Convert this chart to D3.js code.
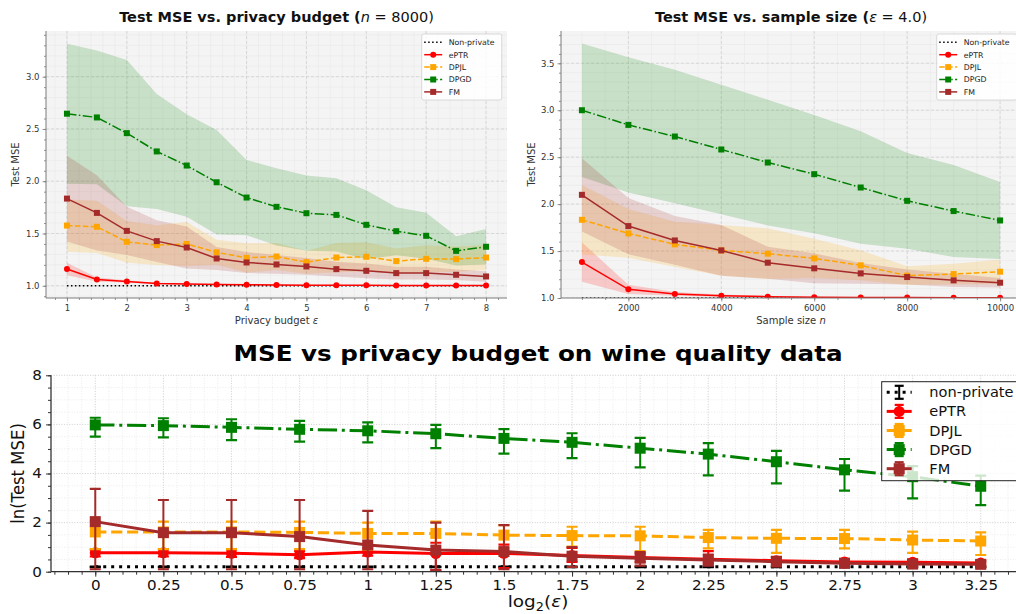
<!DOCTYPE html>
<html>
<head>
<meta charset="utf-8">
<script src="https://cdn.jsdelivr.net/npm/d3@7"></script>
<style>
  body { margin: 0; background: #fff; }
  svg { display: block; }
  text { font-family: "DejaVu Sans", sans-serif; }
</style>
</head>
<body>
<svg id="fig" width="1016" height="614"></svg>
<script>
// ---- panel A: test MSE vs privacy budget (n = 8000)
const epsA = [1, 1.5, 2, 2.5, 3, 3.5, 4, 4.5, 5, 5.5, 6, 6.5, 7, 7.5, 8];
const nonPrivA = [1, 1, 1, 1, 1, 1, 1, 1, 1, 1, 1, 1, 1, 1, 1];
const eptrA = [1.16, 1.06, 1.04, 1.022, 1.016, 1.013, 1.01, 1.008, 1.006, 1.005, 1.004, 1.003, 1.003, 1.002, 1.002];
const eptrSdA = [0.06, 0.02, 0.012, 0.008, 0.007, 0.006, 0.005, 0.005, 0.004, 0.004, 0.004, 0.003, 0.003, 0.003, 0.003];
const dpjlA = [1.576, 1.564, 1.42, 1.389, 1.40, 1.32, 1.267, 1.28, 1.226, 1.27, 1.277, 1.236, 1.258, 1.255, 1.27];
const dpjlSdA = [0.25, 0.25, 0.2, 0.19, 0.21, 0.12, 0.14, 0.13, 0.11, 0.14, 0.14, 0.12, 0.13, 0.12, 0.12];
const dpgdA = [2.646, 2.61, 2.46, 2.285, 2.15, 1.99, 1.844, 1.755, 1.694, 1.678, 1.583, 1.522, 1.478, 1.334, 1.373];
const dpgdSdA = [0.67, 0.64, 0.70, 0.55, 0.49, 0.50, 0.36, 0.37, 0.36, 0.35, 0.33, 0.23, 0.22, 0.14, 0.17];
const fmA = [1.834, 1.697, 1.525, 1.427, 1.366, 1.261, 1.223, 1.204, 1.185, 1.159, 1.143, 1.121, 1.121, 1.105, 1.089];
const fmSdA = [0.41, 0.36, 0.23, 0.2, 0.2, 0.11, 0.1, 0.09, 0.08, 0.07, 0.07, 0.06, 0.06, 0.05, 0.05];

// ---- panel B: test MSE vs sample size (eps = 4)
const nB = [1000, 2000, 3000, 4000, 5000, 6000, 7000, 8000, 9000, 10000];
const nonPrivB = [1, 1, 1, 1, 1, 1, 1, 1, 1, 1];
const eptrB = [1.383, 1.092, 1.043, 1.025, 1.014, 1.008, 1.005, 1.004, 1.003, 1.002];
const eptrSdB = [0.21, 0.05, 0.02, 0.012, 0.008, 0.006, 0.005, 0.004, 0.004, 0.003];
const dpjlB = [1.833, 1.688, 1.571, 1.507, 1.472, 1.422, 1.348, 1.238, 1.255, 1.28];
const dpjlSdB = [0.37, 0.26, 0.24, 0.27, 0.27, 0.21, 0.16, 0.1, 0.11, 0.13];
const dpgdB = [3.0, 2.844, 2.72, 2.582, 2.443, 2.319, 2.177, 2.035, 1.926, 1.826];
const dpgdSdB = [0.71, 0.72, 0.71, 0.69, 0.67, 0.63, 0.6, 0.51, 0.49, 0.41];
const fmB = [2.099, 1.766, 1.613, 1.507, 1.376, 1.316, 1.262, 1.223, 1.188, 1.163];
const fmSdB = [0.39, 0.3, 0.26, 0.27, 0.17, 0.16, 0.11, 0.08, 0.07, 0.05];

// ---- panel C: wine quality, ln(MSE) vs log2(eps), with error bars
const logEpsC = [0, 0.25, 0.5, 0.75, 1, 1.25, 1.5, 1.75, 2, 2.25, 2.5, 2.75, 3, 3.25];
const nonPrivC = [0.2, 0.2, 0.2, 0.2, 0.2, 0.2, 0.2, 0.2, 0.2, 0.2, 0.2, 0.2, 0.2, 0.2];
const nonPrivLoC = [0.19, 0.19, 0.19, 0.19, 0.19, 0.19, 0.19, 0.19, 0.19, 0.19, 0.19, 0.19, 0.19, 0.19];
const nonPrivHiC = [0.21, 0.21, 0.21, 0.21, 0.21, 0.21, 0.21, 0.21, 0.21, 0.21, 0.21, 0.21, 0.21, 0.21];
const eptrC = [0.77, 0.77, 0.75, 0.69, 0.80, 0.74, 0.75, 0.66, 0.58, 0.51, 0.45, 0.40, 0.38, 0.35];
const eptrLoC = [0.62, 0.62, 0.6, 0.55, 0.65, 0.07, 0.15, 0.4, 0.4, 0.35, 0.32, 0.3, 0.28, 0.26];
const eptrHiC = [0.9, 0.9, 0.9, 0.85, 0.95, 1.18, 1.1, 0.97, 0.75, 0.84, 0.58, 0.52, 0.5, 0.45];
const dpjlC = [1.62, 1.62, 1.62, 1.60, 1.56, 1.56, 1.49, 1.47, 1.46, 1.39, 1.36, 1.35, 1.29, 1.25];
const dpjlLoC = [0.92, 0.92, 0.92, 0.92, 0.9, 0.9, 0.95, 1.02, 0.84, 0.95, 0.77, 0.95, 0.77, 0.68];
const dpjlHiC = [2.04, 2.04, 2.04, 2.04, 2.0, 2.04, 1.90, 1.83, 1.83, 1.70, 1.70, 1.70, 1.63, 1.60];
const dpgdC = [5.98, 5.95, 5.88, 5.80, 5.74, 5.62, 5.43, 5.27, 5.03, 4.79, 4.48, 4.15, 3.87, 3.48];
const dpgdLoC = [5.50, 5.47, 5.36, 5.30, 5.27, 5.03, 4.81, 4.63, 4.25, 3.92, 3.60, 3.30, 2.99, 2.71];
const dpgdHiC = [6.27, 6.25, 6.21, 6.14, 6.08, 5.98, 5.81, 5.64, 5.45, 5.24, 4.92, 4.59, 4.3, 3.91];
const fmC = [2.04, 1.59, 1.59, 1.43, 1.09, 0.88, 0.82, 0.63, 0.55, 0.48, 0.41, 0.34, 0.31, 0.30];
const fmLoC = [0.1, 0.1, 0.1, 0.1, 0.1, 0.05, 0.1, 0.2, 0.25, 0.25, 0.22, 0.2, 0.18, 0.18];
const fmHiC = [3.37, 2.92, 2.92, 2.92, 2.48, 2.0, 1.9, 1.0, 0.8, 0.7, 0.6, 0.5, 0.45, 0.42];

const COL = { np: "black", eptr: "#ff0000", dpjl: "#ffa500", dpgd: "#008000", fm: "#a52a2a" };

const svg = d3.select("#fig");
const defs = svg.append("defs");

// matplotlib-like dash patterns, scaled by line width
function dashes(style, lw) {
  if (style === "dashed") return [3.7 * lw, 1.6 * lw].join(",");
  if (style === "dashdot") return [6.4 * lw, 1.6 * lw, 1 * lw, 1.6 * lw].join(",");
  if (style === "dotted") return [1 * lw, 1.65 * lw].join(",");
  return null;
}

function marker(g, type, cx, cy, size, color) {
  if (type === "circle") {
    g.append("circle").attr("cx", cx).attr("cy", cy).attr("r", size / 2).attr("fill", color);
  } else if (type === "square") {
    g.append("rect").attr("x", cx - size / 2).attr("y", cy - size / 2)
      .attr("width", size).attr("height", size).attr("fill", color);
  }
}

// ---------------- top panels ----------------
function topPanel(o) {
  const top = 31, bottom = 298;
  const x = d3.scaleLinear().domain(o.xd).range([o.l, o.r]);
  const y = d3.scaleLinear().domain(o.yd).range([bottom, top]);
  const g = svg.append("g");
  const clipId = "clip" + o.key;
  defs.append("clipPath").attr("id", clipId).append("rect")
    .attr("x", o.l).attr("y", top).attr("width", o.r - o.l).attr("height", bottom - top);

  g.append("rect").attr("x", o.l).attr("y", top).attr("width", o.r - o.l)
    .attr("height", bottom - top).attr("fill", "#f4f4f4");

  const grid = g.append("g").attr("clip-path", `url(#${clipId})`);
  grid.selectAll(".vmin").data(o.xMinor).join("line")
    .attr("x1", d => x(d)).attr("x2", d => x(d)).attr("y1", top).attr("y2", bottom)
    .attr("stroke", "#e6e6e6").attr("stroke-width", 0.5);
  grid.selectAll(".hmin").data(o.yMinor).join("line")
    .attr("y1", d => y(d)).attr("y2", d => y(d)).attr("x1", o.l).attr("x2", o.r)
    .attr("stroke", "#e6e6e6").attr("stroke-width", 0.5);
  grid.selectAll(".vmaj").data(o.xTicks).join("line")
    .attr("x1", d => x(d)).attr("x2", d => x(d)).attr("y1", top).attr("y2", bottom)
    .attr("stroke", "#d2d2d2").attr("stroke-width", 0.8).attr("stroke-dasharray", "3,2");
  grid.selectAll(".hmaj").data(o.yTicks).join("line")
    .attr("y1", d => y(d)).attr("y2", d => y(d)).attr("x1", o.l).attr("x2", o.r)
    .attr("stroke", "#d2d2d2").attr("stroke-width", 0.8).attr("stroke-dasharray", "3,2");

  const plot = g.append("g").attr("clip-path", `url(#${clipId})`);
  const xs = o.x;
  // shaded mean +/- sd bands
  o.series.filter(s => s.sd).forEach(s => {
    const area = d3.area()
      .x((d, i) => x(xs[i]))
      .y0((d, i) => y(s.m[i] - s.sd[i]))
      .y1((d, i) => y(s.m[i] + s.sd[i]));
    plot.append("path").datum(s.m).attr("d", area).attr("fill", s.color).attr("fill-opacity", 0.18);
  });
  o.series.forEach(s => {
    const line = d3.line().x((d, i) => x(xs[i])).y(d => y(d));
    plot.append("path").datum(s.m).attr("d", line).attr("fill", "none")
      .attr("stroke", s.color).attr("stroke-width", 1.5)
      .attr("stroke-dasharray", dashes(s.dash, 1.5));
    if (s.marker) s.m.forEach((v, i) => marker(plot, s.marker, x(xs[i]), y(v), 6, s.color));
  });

  // axes
  const ax = g.append("g").attr("transform", `translate(0,${bottom})`);
  ax.call(d3.axisBottom(x).tickValues(o.xMinor).tickSize(2).tickFormat(""));
  const axM = g.append("g").attr("transform", `translate(0,${bottom})`);
  axM.call(d3.axisBottom(x).tickValues(o.xTicks).tickSize(3.5).tickPadding(3).tickFormat(o.xFmt));
  const ay = g.append("g").attr("transform", `translate(${o.l},0)`);
  ay.call(d3.axisLeft(y).tickValues(o.yMinor).tickSize(2).tickFormat(""));
  const ayM = g.append("g").attr("transform", `translate(${o.l},0)`);
  ayM.call(d3.axisLeft(y).tickValues(o.yTicks).tickSize(3.5).tickPadding(3).tickFormat(d3.format(".1f")));
  [ax, axM, ay, ayM].forEach(a => {
    a.selectAll(".domain").attr("stroke", "#7a7a7a").attr("stroke-width", 1);
    a.selectAll(".tick line").attr("stroke", "#7a7a7a").attr("stroke-width", 0.8);
    a.selectAll("text").attr("fill", "#333").style("font-size", "8.5px");
  });
  ax.select(".domain").attr("d", `M${o.l},0H${o.r}`);
  ay.select(".domain").attr("d", `M0,${bottom}V${top}`);
  axM.select(".domain").remove();
  ayM.select(".domain").remove();

  // titles and labels
  const cx = (o.l + o.r) / 2;
  const t = g.append("text").attr("x", o.titleX || cx).attr("y", 21.5).attr("text-anchor", "middle")
    .style("font-size", "14.5px").style("font-weight", "bold").attr("fill", "#111");
  t.append("tspan").text(o.title + " (");
  t.append("tspan").style("font-weight", "normal").style("font-style", "italic").text(o.titleVar);
  t.append("tspan").style("font-weight", "normal").text(" = " + o.titleVal + ")");

  const xl = g.append("text").attr("x", cx).attr("y", 324).attr("text-anchor", "middle")
    .style("font-size", "10px").attr("fill", "#333");
  xl.append("tspan").text(o.xLabel + " ");
  xl.append("tspan").style("font-style", "italic").text(o.xVar);

  g.append("text").attr("transform", `translate(${o.yLabX},${(top + bottom) / 2}) rotate(-90)`)
    .attr("text-anchor", "middle").style("font-size", "10px").attr("fill", "#333").text("Test MSE");

  // legend
  const lg = g.append("g").attr("transform", `translate(${o.legX},34)`);
  lg.append("rect").attr("width", 80).attr("height", 66).attr("rx", 2)
    .attr("fill", "#fff").attr("fill-opacity", 0.85).attr("stroke", "#d0d0d0").attr("stroke-width", 0.8);
  o.series.forEach((s, i) => {
    const ry = 8.3 + i * 12.4;
    lg.append("line").attr("x1", 2.5).attr("x2", 20.5).attr("y1", ry).attr("y2", ry)
      .attr("stroke", s.color).attr("stroke-width", 1.5).attr("stroke-dasharray", dashes(s.dash, 1.5));
    if (s.marker) marker(lg, s.marker, 11.5, ry, 6, s.color);
    lg.append("text").attr("x", 27).attr("y", ry + 2.8).style("font-size", "7.8px").attr("fill", "#222").text(s.name);
  });
}

topPanel({
  key: "A", l: 46, r: 507, xd: [0.65, 8.35], yd: [0.883, 3.437], x: epsA,
  xTicks: [1, 2, 3, 4, 5, 6, 7, 8], xMinor: d3.range(0.8, 8.3, 0.2),
  yTicks: [1.0, 1.5, 2.0, 2.5, 3.0], yMinor: d3.range(0.9, 3.45, 0.1),
  xFmt: d3.format("d"),
  title: "Test MSE vs. privacy budget", titleVar: "n", titleVal: "8000",
  xLabel: "Privacy budget", xVar: "ε", yLabX: 19, legX: 421.7,
  series: [
    { name: "Non-private", m: nonPrivA, color: COL.np, dash: "dotted" },
    { name: "ePTR", m: eptrA, sd: eptrSdA, color: COL.eptr, marker: "circle" },
    { name: "DPJL", m: dpjlA, sd: dpjlSdA, color: COL.dpjl, dash: "dashed", marker: "square" },
    { name: "DPGD", m: dpgdA, sd: dpgdSdA, color: COL.dpgd, dash: "dashdot", marker: "square" },
    { name: "FM", m: fmA, sd: fmSdA, color: COL.fm, marker: "square" }
  ]
});

topPanel({
  key: "B", l: 561, r: 1021, xd: [550, 10450], yd: [1.0, 3.844], x: nB,
  xTicks: [2000, 4000, 6000, 8000, 10000], xMinor: d3.range(1000, 10500, 500),
  yTicks: [1.0, 1.5, 2.0, 2.5, 3.0, 3.5], yMinor: d3.range(1.0, 3.85, 0.1),
  xFmt: d3.format("d"), titleX: 791,
  title: "Test MSE vs. sample size", titleVar: "ε", titleVal: "4.0",
  xLabel: "Sample size", xVar: "n", yLabX: 535, legX: 936.7,
  series: [
    { name: "Non-private", m: nonPrivB, color: COL.np, dash: "dotted" },
    { name: "ePTR", m: eptrB, sd: eptrSdB, color: COL.eptr, marker: "circle" },
    { name: "DPJL", m: dpjlB, sd: dpjlSdB, color: COL.dpjl, dash: "dashed", marker: "square" },
    { name: "DPGD", m: dpgdB, sd: dpgdSdB, color: COL.dpgd, dash: "dashdot", marker: "square" },
    { name: "FM", m: fmB, sd: fmSdB, color: COL.fm, marker: "square" }
  ]
});

// ---------------- bottom panel ----------------
(function () {
  const l = 51, r = 1025, top = 375.3, bottom = 571.7;
  const SX = 1.12; // the bottom figure is slightly wider than tall
  const x = d3.scaleLinear().domain([-0.1625, 3.4125]).range([l, r]);
  const y = d3.scaleLinear().domain([0, 8]).range([bottom, top]);
  const g = svg.append("g");
  defs.append("clipPath").attr("id", "clipC").append("rect")
    .attr("x", l).attr("y", top - 8).attr("width", r - l).attr("height", bottom - top + 8);

  const xMinor = d3.range(-0.15, 3.42, 0.05);
  const xTicks = [0, 0.25, 0.5, 0.75, 1, 1.25, 1.5, 1.75, 2, 2.25, 2.5, 2.75, 3, 3.25];
  const yMinor = d3.range(0, 8.01, 0.5);
  const yTicks = [0, 2, 4, 6, 8];

  g.selectAll(".vg").data(xMinor).join("line")
    .attr("x1", d => x(d)).attr("x2", d => x(d)).attr("y1", top).attr("y2", bottom)
    .attr("stroke", "#e4e4e4").attr("stroke-width", 0.7).attr("stroke-dasharray", "1,1.6");
  g.selectAll(".hg").data(yMinor).join("line")
    .attr("y1", d => y(d)).attr("y2", d => y(d)).attr("x1", l).attr("x2", r)
    .attr("stroke", "#e4e4e4").attr("stroke-width", 0.7).attr("stroke-dasharray", "1,1.6");
  g.selectAll(".vgM").data(xTicks).join("line")
    .attr("x1", d => x(d)).attr("x2", d => x(d)).attr("y1", top).attr("y2", bottom)
    .attr("stroke", "#cfcfcf").attr("stroke-width", 0.8).attr("stroke-dasharray", "1,1.6");
  g.selectAll(".hgM").data(yTicks).join("line")
    .attr("y1", d => y(d)).attr("y2", d => y(d)).attr("x1", l).attr("x2", r)
    .attr("stroke", "#cfcfcf").attr("stroke-width", 0.8).attr("stroke-dasharray", "1,1.6");

  const series = [
    { name: "non-private", m: nonPrivC, lo: nonPrivLoC, hi: nonPrivHiC, color: COL.np, dash: "dotted" },
    { name: "ePTR", m: eptrC, lo: eptrLoC, hi: eptrHiC, color: COL.eptr, marker: "circle" },
    { name: "DPJL", m: dpjlC, lo: dpjlLoC, hi: dpjlHiC, color: COL.dpjl, dash: "dashed", marker: "square" },
    { name: "DPGD", m: dpgdC, lo: dpgdLoC, hi: dpgdHiC, color: COL.dpgd, dash: "dashdot", marker: "square" },
    { name: "FM", m: fmC, lo: fmLoC, hi: fmHiC, color: COL.fm, marker: "square" }
  ];

  const plot = g.append("g").attr("clip-path", "url(#clipC)");
  series.forEach(s => {
    const sg = plot.append("g");
    const line = d3.line().x((d, i) => x(logEpsC[i])).y(d => y(d));
    sg.append("path").datum(s.m).attr("d", line).attr("fill", "none")
      .attr("stroke", s.color).attr("stroke-width", 3).attr("stroke-dasharray", dashes(s.dash, 3));
    s.m.forEach((v, i) => {
      const cx = x(logEpsC[i]);
      sg.append("line").attr("x1", cx).attr("x2", cx).attr("y1", y(s.lo[i])).attr("y2", y(s.hi[i]))
        .attr("stroke", s.color).attr("stroke-width", 2);
      [s.lo[i], s.hi[i]].forEach(c => sg.append("line").attr("x1", cx - 5.5).attr("x2", cx + 5.5)
        .attr("y1", y(c)).attr("y2", y(c)).attr("stroke", s.color).attr("stroke-width", 2.2));
      if (s.marker) marker(sg, s.marker, cx, y(v), 11, s.color);
    });
  });

  // axes
  const ax = g.append("g").attr("transform", `translate(0,${bottom})`);
  ax.call(d3.axisBottom(x).tickValues(xMinor).tickSize(3).tickFormat(""));
  const axM = g.append("g").attr("transform", `translate(0,${bottom})`);
  axM.call(d3.axisBottom(x).tickValues(xTicks).tickSize(5).tickPadding(4).tickFormat(d => String(d)));
  const ay = g.append("g").attr("transform", `translate(${l},0)`);
  ay.call(d3.axisLeft(y).tickValues(yMinor).tickSize(3).tickFormat(""));
  const ayM = g.append("g").attr("transform", `translate(${l},0)`);
  ayM.call(d3.axisLeft(y).tickValues(yTicks).tickSize(5).tickPadding(4).tickFormat(d3.format("d")));
  [ax, axM, ay, ayM].forEach(a => {
    a.selectAll(".domain").attr("stroke", "#333").attr("stroke-width", 1.3);
    a.selectAll(".tick line").attr("stroke", "#333").attr("stroke-width", 1);
    a.selectAll("text").attr("fill", "#111").style("font-size", "13.5px");
  });
  axM.selectAll("text").attr("transform", `scale(${SX},1)`);
  ayM.selectAll("text").attr("transform", `scale(${SX},1)`).attr("x", -9 / SX);
  ax.select(".domain").attr("d", `M${l},0H${r}`);
  ay.select(".domain").attr("d", `M0,${bottom}V${top}`);
  axM.select(".domain").remove();
  ayM.select(".domain").remove();

  g.append("text").attr("transform", `translate(538,361) scale(${SX},1)`).attr("text-anchor", "middle")
    .style("font-size", "22px").style("font-weight", "bold").attr("fill", "#000")
    .text("MSE vs privacy budget on wine quality data");

  const xl = g.append("text").attr("transform", `translate(538,607) scale(${SX},1)`).attr("text-anchor", "middle")
    .style("font-size", "16.5px").attr("fill", "#111");
  xl.append("tspan").text("log");
  xl.append("tspan").attr("dy", 4).style("font-size", "11.5px").text("2");
  xl.append("tspan").attr("dy", -4).text("(");
  xl.append("tspan").style("font-style", "italic").text("ε");
  xl.append("tspan").text(")");

  g.append("text").attr("transform", `translate(24,${(top + bottom) / 2}) rotate(-90) scale(1,${SX})`)
    .attr("text-anchor", "middle").style("font-size", "16.5px").attr("fill", "#111").text("ln(Test MSE)");

  // legend
  const lg = g.append("g").attr("transform", "translate(881.7,381.7)");
  lg.append("rect").attr("width", 140).attr("height", 99)
    .attr("fill", "#fff").attr("fill-opacity", 0.8).attr("stroke", "#222").attr("stroke-width", 1);
  series.forEach((s, i) => {
    const ry = 10.6 + i * 19.1;
    const hx = 17.5;
    lg.append("line").attr("x1", 5).attr("x2", 30).attr("y1", ry).attr("y2", ry)
      .attr("stroke", s.color).attr("stroke-width", 3).attr("stroke-dasharray", dashes(s.dash, 3));
    lg.append("line").attr("x1", hx).attr("x2", hx).attr("y1", ry - 6.5).attr("y2", ry + 6.5)
      .attr("stroke", s.color).attr("stroke-width", 2);
    [ry - 6.5, ry + 6.5].forEach(c => lg.append("line").attr("x1", hx - 4.5).attr("x2", hx + 4.5)
      .attr("y1", c).attr("y2", c).attr("stroke", s.color).attr("stroke-width", 2.2));
    if (s.marker) marker(lg, s.marker, hx, ry, 11, s.color);
    lg.append("text").attr("transform", `translate(47.6,${ry + 5}) scale(1.08,1)`)
      .style("font-size", "13.5px").attr("fill", "#111").text(s.name);
  });
})();
</script>
</body>
</html>
